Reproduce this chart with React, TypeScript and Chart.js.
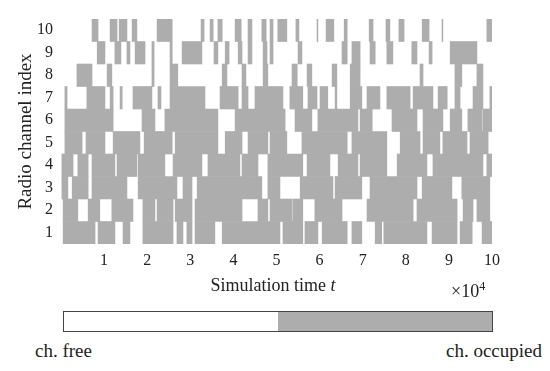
import React, { useEffect, useRef } from "react";
import { Chart, registerables } from "chart.js";

Chart.register(...registerables);

// Channel labels, top to bottom
const channels = ["10", "9", "8", "7", "6", "5", "4", "3", "2", "1"];
const xTicks = [1, 2, 3, 4, 5, 6, 7, 8, 9, 10];

// Occupied intervals per channel, in units of 10^4 simulation time
const ch10: [number, number][] = [[0.72,0.86],[1.14,1.30],[1.35,1.53],[1.65,1.76],[2.23,2.58],[3.25,3.32],[3.46,3.53],[3.64,3.74],[4.04,4.18],[4.34,4.43],[4.66,4.76],[4.85,4.92],[5.03,5.24],[5.45,5.52],[5.94,5.96],[6.15,6.33],[6.57,6.64],[7.15,7.24],[7.54,7.63],[7.84,7.96],[8.38,8.54],[8.84,8.86],[9.88,10]];
const ch9: [number, number][] = [[0.84,1.02],[1.25,1.39],[1.53,1.60],[1.72,1.95],[2.11,2.16],[2.53,2.58],[2.81,3.27],[3.55,3.64],[3.81,3.90],[4.11,4.20],[4.34,4.43],[4.69,4.78],[4.85,4.92],[5.50,5.59],[6.52,6.64],[6.75,6.94],[7.17,7.29],[7.56,7.70],[8.14,8.26],[8.54,8.61],[9.03,9.65]];
const ch8: [number, number][] = [[0.37,0.72],[1.07,1.18],[2.11,2.16],[2.53,2.71],[3.74,3.85],[4.20,4.29],[4.69,4.80],[5.36,5.48],[5.71,5.82],[6.29,6.40],[6.71,6.94],[8.33,8.40],[9.14,9.30],[9.65,9.79]];
const ch7: [number, number][] = [[0.09,0.14],[0.60,1.02],[1.14,1.21],[1.37,1.42],[1.67,2.11],[2.25,2.32],[2.53,3.34],[3.69,4.11],[4.20,4.34],[4.50,5.15],[5.31,5.61],[5.73,5.94],[6.01,6.19],[6.36,6.40],[6.71,6.98],[7.10,7.40],[7.56,8.10],[8.17,8.63],[8.75,8.96],[9.14,9.26],[9.56,9.79],[9.95,10]];
const ch6: [number, number][] = [[0.09,1.21],[1.88,2.18],[2.41,3.64],[4.04,5.20],[5.43,5.82],[5.96,6.89],[6.94,7.22],[7.68,8.26],[8.40,8.86],[9.03,9.30],[9.44,9.77],[9.79,10]];
const ch5: [number, number][] = [[0.09,0.49],[0.58,1.02],[1.21,1.83],[1.93,2.58],[2.65,3.64],[3.81,4.20],[4.34,4.80],[4.85,5.24],[5.59,6.64],[6.75,7.56],[7.87,8.33],[8.40,8.79],[8.86,9.42],[9.49,9.91]];
const ch4: [number, number][] = [[0.02,0.28],[0.39,0.63],[0.72,1.25],[1.30,1.76],[1.79,2.41],[2.60,3.27],[3.41,4.15],[4.20,4.57],[4.80,5.61],[5.71,6.24],[6.43,6.89],[6.94,7.56],[7.80,8.49],[8.63,9.79],[9.88,10]];
const ch3: [number, number][] = [[0.02,0.16],[0.26,0.63],[0.72,1.53],[1.79,2.69],[2.83,3.04],[3.16,4.66],[4.80,5.08],[5.55,6.31],[6.36,6.98],[7.17,8.26],[8.38,9.07],[9.30,9.95]];
const ch2: [number, number][] = [[0.05,0.39],[0.63,0.90],[1.18,1.67],[1.90,2.18],[2.23,2.60],[2.65,3.04],[3.11,4.20],[4.57,4.80],[4.85,5.36],[5.38,5.61],[5.89,6.52],[7.10,8.17],[8.26,9.19],[9.33,9.56],[9.65,9.95]];
const ch1: [number, number][] = [[0.05,0.79],[0.86,1.25],[1.44,1.60],[1.90,2.60],[2.69,2.83],[2.92,3.04],[3.11,3.57],[3.74,5.08],[5.15,5.61],[5.66,5.96],[6.06,6.64],[6.75,6.98],[7.29,7.44],[7.49,8.49],[8.61,9.19],[9.26,9.54],[9.77,10]];

const occupancy = [ch10, ch9, ch8, ch7, ch6, ch5, ch4, ch3, ch2, ch1];

const GREY = "#adadad";
const FONT = "'Liberation Serif', 'DejaVu Serif', serif";

export default function App() {
  const ref = useRef<HTMLCanvasElement>(null);

  useEffect(() => {
    if (!ref.current) return;
    const maxLen = Math.max(...occupancy.map((r) => r.length));
    const datasets = [];
    for (let j = 0; j < maxLen; j++) {
      datasets.push({
        data: occupancy.map((r) => (r[j] ? r[j] : null)),
        backgroundColor: GREY,
        borderWidth: 0,
        barPercentage: 1,
        categoryPercentage: 1,
        grouped: false,
      });
    }
    const chart = new Chart(ref.current, {
      type: "bar",
      data: { labels: channels, datasets: datasets as any },
      options: {
        indexAxis: "y",
        animation: false,
        responsive: false,
        devicePixelRatio: 1,
        layout: { padding: { left: 0, top: 19, right: 58, bottom: 0 } },
        plugins: { legend: { display: false }, tooltip: { enabled: false } },
        scales: {
          x: {
            type: "linear",
            min: 0,
            max: 10,
            grid: { display: false, drawTicks: false },
            border: { display: false },
            afterBuildTicks: (scale: any) => {
              scale.ticks = xTicks.map((v) => ({ value: v }));
            },
            afterFit: (scale: any) => {
              scale.height = 56;
            },
            ticks: {
              padding: 7,
              color: "#222",
              font: { family: FONT, size: 16 },
              maxRotation: 0,
            },
          },
          y: {
            type: "category",
            grid: { display: false, drawTicks: false },
            border: { display: false },
            afterFit: (scale: any) => {
              scale.width = 61;
            },
            ticks: {
              padding: 8,
              color: "#222",
              font: { family: FONT, size: 16 },
            },
            title: {
              display: true,
              text: "Radio channel index",
              color: "#222",
              font: { family: FONT, size: 19 },
              padding: { top: 15, bottom: 0 },
            },
          },
        },
      },
    });
    return () => chart.destroy();
  }, []);

  const textStyle: React.CSSProperties = {
    position: "absolute",
    fontFamily: FONT,
    fontSize: 18,
    lineHeight: "20px",
    color: "#222",
    whiteSpace: "nowrap",
  };

  return (
    <div style={{ position: "fixed", left: 0, top: 0, width: 550, height: 371, background: "#fff", overflow: "hidden" }}>
      <canvas ref={ref} width={550} height={300} style={{ position: "absolute", left: 0, top: 0, width: 550, height: 300 }} />
      <div style={{ ...textStyle, left: 173, width: 200, top: 275, textAlign: "center" }}>
        Simulation time <i>t</i>
      </div>
      <div style={{ ...textStyle, left: 451, top: 281 }}>
        ×10<sup style={{ fontSize: 12, verticalAlign: "7px", lineHeight: 0 }}>4</sup>
      </div>
      <div style={{ position: "absolute", left: 63, top: 311, width: 430, height: 21, border: "1px solid #444", boxSizing: "border-box", display: "flex" }}>
        <div style={{ flex: 1, background: "#fff" }} />
        <div style={{ flex: 1, background: GREY }} />
      </div>
      <div style={{ ...textStyle, fontSize: 19, left: 35, top: 341 }}>ch. free</div>
      <div style={{ ...textStyle, fontSize: 19, left: 446, top: 341 }}>ch. occupied</div>
    </div>
  );
}
